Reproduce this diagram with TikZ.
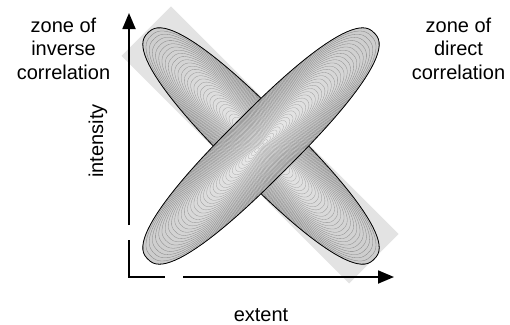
\documentclass[tikz,border=0pt]{standalone}
\usepackage{fontspec}
\setmainfont{Liberation Sans}
\usetikzlibrary{arrows.meta}
\tikzset{
  lbl/.style={font=\fontsize{20}{23.5}\selectfont, inner sep=0pt, align=center},
  axis/.style={line width=1.8pt, black},
  axisarrow/.style={axis, -{Triangle[length=16pt,width=13pt]}},
  zone/.style={fill=black!11, draw=none},
}
% superellipse ring: #1 = semi-major, #2 = semi-minor
\newcommand{\supring}[2]{plot[domain=1:361, samples=91]
  ({#1*sign(cos(\x))*abs(cos(\x))^0.8}, {#2*sign(sin(\x))*abs(sin(\x))^0.8}) -- cycle}
\newcommand{\ringellipse}[1]{%
  \begin{scope}[shift={(261,146)}, rotate=#1]
    \foreach \k in {0,...,36}{
      \pgfmathsetmacro{\f}{1-\k/37}
      \pgfmathsetmacro{\ra}{160*\f}
      \pgfmathsetmacro{\rb}{34*\f}
      \pgfmathsetmacro{\c}{20-12*\k/36}
      \pgfmathsetmacro{\d}{50-20*\k/36}
      \fill[black!\c] \supring{\ra}{\rb};
      \draw[black!\d, line width=0.3pt] \supring{\ra}{\rb};
    }
    \draw[black, line width=0.8pt, line join=round] \supring{160}{34};
  \end{scope}}
\begin{document}
\begin{tikzpicture}[x=1pt,y=-1pt]
\useasboundingbox (0,0) rectangle (510,324);
% grey zone
\begin{scope}[shift={(260,145)}, rotate=-45]
  \fill[zone] (-161,-35) rectangle (161,35);
\end{scope}
% ellipses
\ringellipse{-45}
\ringellipse{45}
% axes
\coordinate (O) at (129,277);
\coordinate (Y1) at (129,240);
\coordinate (Y2) at (129,225);
\coordinate (Ytip) at (129,13);
\coordinate (X1) at (165,277);
\coordinate (X2) at (183,277);
\coordinate (Xtip) at (394,277);
\draw[axis, line cap=butt] (Y1) -- (O) -- (X1);
\draw[axisarrow] (Y2) -- (Ytip);
\draw[axisarrow] (X2) -- (Xtip);
% labels
\node[lbl, anchor=base] (inv) at (63.5,79) {zone of\\inverse\\correlation};
\node[lbl, anchor=base] (dir) at (458.5,79) {zone of\\direct\\correlation};
\node[lbl, anchor=base, rotate=90] (int) at (103,141) {intensity};
\node[lbl, anchor=base] (ext) at (261,321) {extent};
\end{tikzpicture}
\end{document}
